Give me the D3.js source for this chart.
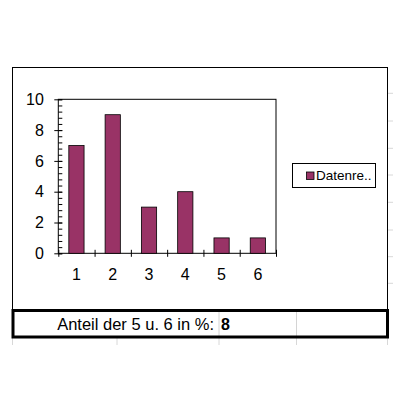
<!DOCTYPE html>
<html><head><meta charset="utf-8">
<script src="https://cdn.jsdelivr.net/npm/d3@7"></script>
<style>body{margin:0;background:#fff}svg{display:block;font-family:"Liberation Sans",Arial,sans-serif}</style>
</head><body>
<svg id="c" width="400" height="400"></svg>
<script>
const categories = ["1","2","3","4","5","6"];
const values = [7, 9, 3, 4, 1, 1];
const yTicks = [0, 2, 4, 6, 8, 10];
const legendLabel = "Datenre..";
const tableLabel = "Anteil der 5 u. 6 in %:";
const tableValue = "8";

const svg = d3.select("#c");
const L = 58.3, R = 276, T = 99.3, B = 253.3;
const barColor = "#993366";

// spreadsheet grid decorations
const gridCols = [12.5, 117, 219, 296.5, 387.5];
const gridRows = [93.3, 121, 148.3, 175, 202.3, 230, 256.7, 283.3];
svg.append("g").selectAll("line").data(gridRows).join("line")
  .attr("x1", 388).attr("x2", 393).attr("y1", d => d).attr("y2", d => d)
  .attr("stroke", "#d8d8d8");
svg.append("g").selectAll("line").data(gridCols).join("line")
  .attr("x1", d => d).attr("x2", d => d).attr("y1", 338).attr("y2", 345)
  .attr("stroke", "#d8d8d8");

// chart outer box
svg.append("rect").attr("x", 12.5).attr("y", 67.5).attr("width", 375).attr("height", 243)
  .attr("fill", "#fff").attr("stroke", "#000");

const x = d3.scaleBand().domain(categories).range([L, R]).padding(0);
const xLin = d3.scaleLinear().domain([0, categories.length]).range([L, R]);
const y = d3.scaleLinear().domain([0, 10]).range([B, T]);

// plot frame
svg.append("rect").attr("x", L).attr("y", T).attr("width", R - L).attr("height", B - T)
  .attr("fill", "#fff").attr("stroke", "#000");

// bars
const bw = x.bandwidth() * 0.42;
svg.append("g").selectAll("rect").data(values).join("rect")
  .attr("x", (d, i) => x(categories[i]) + (x.bandwidth() - bw) / 2)
  .attr("y", d => y(d)).attr("width", bw).attr("height", d => B - y(d))
  .attr("fill", barColor).attr("stroke", "#000").attr("stroke-width", 0.8);

// y axis major (crossing ticks)
const yAx = svg.append("g").attr("transform", `translate(${L + 4},0)`)
  .call(d3.axisLeft(y).tickValues(yTicks).tickSize(8).tickPadding(10.5).tickFormat(d3.format("d")));
yAx.select(".domain").remove();
yAx.selectAll("text").attr("font-size", 16).attr("fill", "#000").attr("font-family", "Liberation Sans, Arial, sans-serif");
yAx.selectAll("line").attr("stroke", "#000");
// y minor ticks (inside)
const yMin = svg.append("g").attr("transform", `translate(${L},0)`)
  .call(d3.axisRight(y).tickValues(d3.range(0, 10.001, 0.4)).tickSize(4).tickFormat(""));
yMin.select(".domain").remove();
yMin.selectAll("line").attr("stroke", "#000");

// x axis ticks at category boundaries (crossing)
const xT = svg.append("g").attr("transform", `translate(0,${B - 3.5})`)
  .call(d3.axisBottom(xLin).tickValues(d3.range(0, categories.length + 1)).tickSize(7).tickFormat(""));
xT.select(".domain").remove();
xT.selectAll("line").attr("stroke", "#000");
// x labels
const xAx = svg.append("g").attr("transform", `translate(0,${B})`)
  .call(d3.axisBottom(x).tickSize(0).tickPadding(15));
xAx.select(".domain").remove();
xAx.selectAll("text").attr("font-size", 16).attr("fill", "#000").attr("font-family", "Liberation Sans, Arial, sans-serif");

// legend
const lg = svg.append("g");
lg.append("rect").attr("x", 292.5).attr("y", 163.5).attr("width", 83).attr("height", 24)
  .attr("fill", "#fff").attr("stroke", "#000");
lg.append("rect").attr("x", 306.5).attr("y", 172).attr("width", 7.5).attr("height", 7.5)
  .attr("fill", barColor).attr("stroke", "#000").attr("stroke-width", 0.8);
lg.append("text").attr("x", 316).attr("y", 180.3).attr("font-size", 13.5).attr("fill", "#000").text(legendLabel);

// table row
svg.append("g").selectAll("line").data([219, 296.5]).join("line")
  .attr("x1", d => d).attr("x2", d => d).attr("y1", 311).attr("y2", 336)
  .attr("stroke", "#d4d4d4");
svg.append("rect").attr("x", 13).attr("y", 310.5).attr("width", 374.5).attr("height", 26.5)
  .attr("fill", "none").attr("stroke", "#000").attr("stroke-width", 3);
svg.append("text").attr("x", 214).attr("y", 330).attr("text-anchor", "end")
  .attr("font-size", 16.5).attr("fill", "#000").text(tableLabel);
svg.append("text").attr("x", 221).attr("y", 330)
  .attr("font-size", 16).attr("font-weight", "bold").attr("fill", "#000").text(tableValue);
</script>
</body></html>
